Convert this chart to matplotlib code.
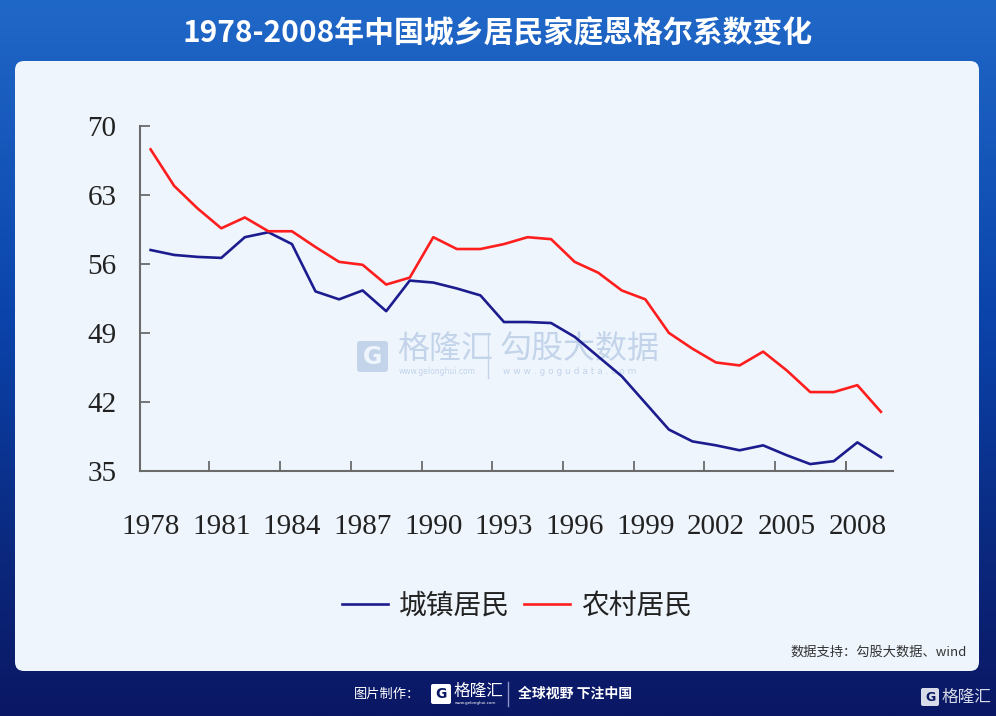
import numpy as np
import matplotlib
matplotlib.use("Agg")
import matplotlib.pyplot as plt
from matplotlib.patches import FancyBboxPatch
from matplotlib.colors import LinearSegmentedColormap

# ---------------- data ----------------
years = list(range(1978, 2010))
urban = [57.4, 56.9, 56.7, 56.6, 58.7, 59.2, 58.0, 53.2, 52.4, 53.3, 51.2, 54.3,
         54.1, 53.5, 52.8, 50.1, 50.1, 50.0, 48.6, 46.6, 44.6, 41.9, 39.2, 38.0,
         37.6, 37.1, 37.6, 36.6, 35.7, 36.0, 37.9, 36.4]
rural = [67.6, 63.9, 61.6, 59.6, 60.7, 59.3, 59.3, 57.7, 56.2, 55.9, 53.9, 54.6,
         58.7, 57.5, 57.5, 58.0, 58.7, 58.5, 56.2, 55.1, 53.3, 52.4, 49.0, 47.4,
         46.0, 45.7, 47.1, 45.2, 43.0, 43.0, 43.7, 41.0]
series_names = ["城镇居民", "农村居民"]
x_tick_labels = list(range(1978, 2009, 3))
y_ticks = [35, 42, 49, 56, 63, 70]
title = "1978-2008年中国城乡居民家庭恩格尔系数变化"
source = "数据支持：勾股大数据、wind"

CJK = ["Noto Sans CJK SC", "DejaVu Sans"]
plt.rcParams['font.family'] = CJK

W, H = 996, 716
fig = plt.figure(figsize=(W / 100, H / 100), dpi=100)

# ---------------- background ----------------
bg = fig.add_axes([0, 0, 1, 1])
bg.set_xlim(0, W)
bg.set_ylim(H, 0)
bg.axis("off")
cmap = LinearSegmentedColormap.from_list(
    "bg", [(0.0, "#2068c8"), (0.45, "#0a43aa"), (0.8, "#0b267a"), (1.0, "#0a1764")])
grad = np.linspace(0, 1, 256).reshape(-1, 1)
bg.imshow(grad, cmap=cmap, aspect="auto", extent=[0, W, H, 0], zorder=0)

panel = FancyBboxPatch((15, 61), 964, 610, boxstyle="round,pad=0,rounding_size=9",
                       facecolor="#eef5fd", edgecolor="none", zorder=1)
bg.add_patch(panel)

bg.text(498, 33, title, color="white", fontsize=21.5, fontweight="bold",
        ha="center", va="center", zorder=2, family=CJK)
bg.text(967, 652, source, color="#333333", fontsize=9.5, ha="right", va="center",
        zorder=2, family=CJK)

# watermark
wm = "#c3d4ea"
bg.add_patch(FancyBboxPatch((357, 341), 31, 31, boxstyle="round,pad=0,rounding_size=3",
                            facecolor=wm, edgecolor="none", zorder=2))
bg.text(372.5, 357, "G", color="#eef5fd", fontsize=17, fontweight="bold", ha="center",
        va="center", zorder=3, family="DejaVu Sans")
bg.text(397, 349, "格隆汇", color=wm, fontsize=23, ha="left", va="center", zorder=2)
bg.text(399, 371, "www.gelonghui.com", color=wm, fontsize=5.5, ha="left", va="center",
        zorder=2, family="DejaVu Sans")
bg.plot([488, 488], [333, 378], color=wm, lw=1, zorder=2)
bg.text(500, 349, "勾股大数据", color=wm, fontsize=23, ha="left", va="center", zorder=2)
bg.text(503, 371, "w w w . g o g u d a t a . c o m", color=wm, fontsize=6.5, ha="left",
        va="center", zorder=2, family="DejaVu Sans")

# footer
bg.text(420, 694, "图片制作：", color="white", fontsize=9.5, ha="right", va="center", zorder=2)
bg.add_patch(FancyBboxPatch((431, 684), 20, 20, boxstyle="round,pad=0,rounding_size=2",
                            facecolor="white", edgecolor="none", zorder=2))
bg.text(441, 694.5, "G", color="#0a1764", fontsize=10, fontweight="bold", ha="center",
        va="center", zorder=3, family="DejaVu Sans")
bg.text(454, 691, "格隆汇", color="white", fontsize=12, ha="left", va="center", zorder=2)
bg.text(455, 703, "www.gelonghui.com", color="white", fontsize=3, ha="left", va="center",
        zorder=2, family="DejaVu Sans")
bg.plot([508, 508], [682, 706], color="#8a96c8", lw=1, zorder=2)
bg.text(518, 694, "全球视野 下注中国", color="white", fontsize=10, fontweight="bold",
        ha="left", va="center", zorder=2)
bg.add_patch(FancyBboxPatch((921, 688), 18, 18, boxstyle="round,pad=0,rounding_size=2",
                            facecolor="#d8dbe8", edgecolor="none", zorder=2))
bg.text(930, 697.5, "G", color="#0a1764", fontsize=9, fontweight="bold", ha="center",
        va="center", zorder=3, family="DejaVu Sans")
bg.text(942, 697, "格隆汇", color="#d8dbe8", fontsize=12, ha="left", va="center", zorder=2)

# ---------------- chart ----------------
ax = fig.add_axes([140 / W, 1 - 471 / H, 752.7 / W, 345.3 / H])
ax.patch.set_alpha(0)
blue = "#1c1c8e"
red = "#ff1e1e"
l1, = ax.plot(years, urban, color=blue, lw=1.9, label=series_names[0])
l2, = ax.plot(years, rural, color=red, lw=1.9, label=series_names[1])
ax.set_xlim(1977.55, 2009.5)
ax.set_ylim(35, 70)

for s in ["top", "right"]:
    ax.spines[s].set_visible(False)
for s in ["left", "bottom"]:
    ax.spines[s].set_color("#6b6b6b")
    ax.spines[s].set_linewidth(1.5)

ax.set_yticks(y_ticks)
ax.set_yticklabels([str(v) for v in y_ticks])
ax.tick_params(axis="y", direction="in", length=7, width=1.3, color="#6b6b6b",
               pad=17, labelsize=21, labelcolor="#222222")
ax.set_xticks(x_tick_labels)
ax.set_xticklabels([str(v) for v in x_tick_labels])
ax.tick_params(axis="x", which="major", length=0, pad=31, labelsize=21,
               labelcolor="#222222")
ax.set_xticks([y + 2.5 for y in x_tick_labels[:-1]] + [x_tick_labels[-1] - 0.5], minor=True)
ax.tick_params(axis="x", which="minor", direction="in", length=7, width=1.3,
               color="#6b6b6b")
for lab in ax.get_xticklabels() + ax.get_yticklabels():
    lab.set_family("Liberation Serif")

leg = fig.legend(handles=[l1, l2], labels=series_names, loc="center",
                 bbox_to_anchor=(517 / W, 1 - 606 / H), ncol=2, frameon=False,
                 handlelength=1.65, handletextpad=0.4, columnspacing=0.5,
                 prop={"family": CJK, "size": 20})
for t in leg.get_texts():
    t.set_color("#222222")

fig.savefig("out.png", dpi=100)
